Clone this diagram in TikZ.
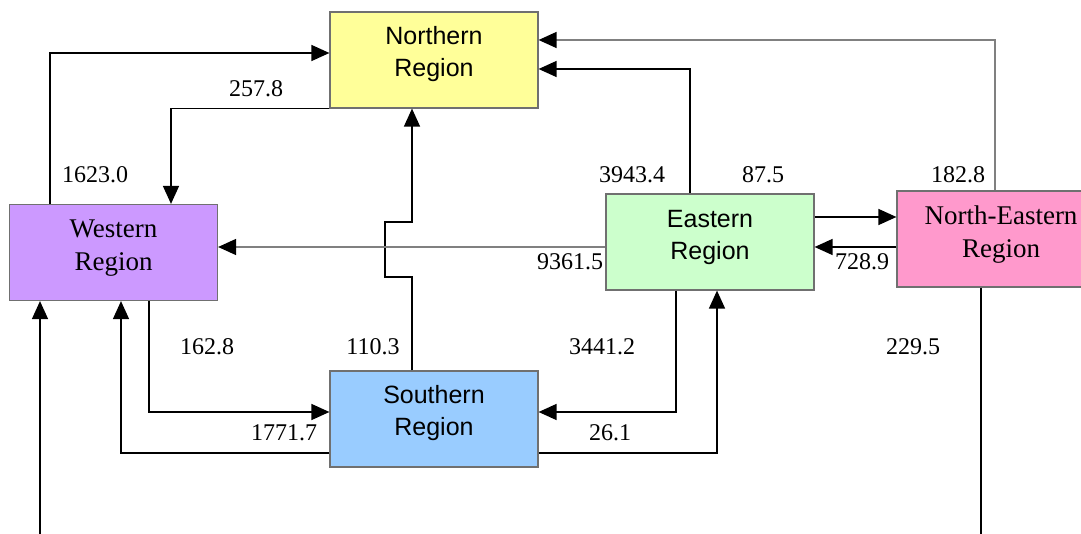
\documentclass[tikz,border=0pt]{standalone}
\usepackage{fontspec}
\setmainfont{Liberation Serif}
\newfontfamily\boxsans{Liberation Sans}
\usetikzlibrary{arrows.meta}
\definecolor{cnorth}{HTML}{FFFF99}
\definecolor{cwest}{HTML}{CC99FF}
\definecolor{ceast}{HTML}{CCFFCC}
\definecolor{cne}{HTML}{FF99CC}
\definecolor{csouth}{HTML}{99CCFF}
\definecolor{bordergray}{HTML}{707070}
\tikzset{
  region/.style={draw=bordergray, line width=1.2pt, minimum width=208pt, minimum height=96pt,
    inner sep=0pt},
  sanstext/.style={font=\boxsans\fontsize{25}{32}\selectfont, align=center, inner sep=0pt},
  seriftext/.style={font=\fontsize{27}{33}\selectfont, align=center, inner sep=0pt},
  flow/.style={line width=1.5pt, -{Triangle[length=18pt,width=16pt,color=black]}},
  plain/.style={line width=1.5pt},
  grayflow/.style={flow, draw=black!50},
  val/.style={font=\fontsize{24}{28}\selectfont, inner sep=0pt}
}
\begin{document}
\begin{tikzpicture}[x=1pt,y=-1pt]
\useasboundingbox (0,0) rectangle (1081,534);
\clip (0,0) rectangle (1081,534);
% regions
\node[region, fill=cnorth] (N) at (434,60) {};
\node[region, fill=cwest] (W) at (113.5,252.5) {};
\node[region, fill=ceast] (E) at (710,242) {};
\node[region, fill=cne] (NE) at (1001,239) {};
\node[region, fill=csouth] (S) at (434,419) {};
\node[sanstext] (Nt) at ([yshift=6pt]N.center) {Northern\\Region};
\node[seriftext] (Wt) at ([yshift=4pt]W.center) {Western\\Region};
\node[sanstext] (Et) at ([yshift=5pt]E.center) {Eastern\\Region};
\node[seriftext] (NEt) at ([yshift=4pt]NE.center) {North-Eastern\\Region};
\node[sanstext] (St) at ([yshift=6pt]S.center) {Southern\\Region};
% free ends
\coordinate (inW) at (40,534);
\coordinate (outNE) at (981,534);
% connectors
\draw[flow] (W.north -| 50,0) |- (N.west |- 0,53);
\draw[flow] (N.south west) -| (W.north -| 171,0);
\draw[flow] (S.north -| 412,0) -- (412,277) -- (385,277) -- (385,222) -- (412,222) -- (N.south -| 412,0);
\draw[grayflow] (E.west |- 0,247) -- (W.east |- 0,247);
\draw[flow] (E.north -| 690,0) |- (N.east |- 0,69);
\draw[grayflow] (NE.north -| 995,0) |- (N.east |- 0,40);
\draw[flow] (E.east |- 0,217) -- (NE.west |- 0,217);
\draw[flow] (NE.west |- 0,247) -- (E.east |- 0,247);
\draw[flow] (E.south -| 676,0) |- (S.east |- 0,412);
\draw[flow] (S.east |- 0,453) -| (E.south -| 717,0);
\draw[flow] (W.south -| 149,0) |- (S.west |- 0,412);
\draw[flow] (S.west |- 0,453) -| (W.south -| 121,0);
\draw[flow] (inW) -- (W.south -| inW);
\draw[plain] (NE.south -| outNE) -- (outNE);
% values
\node[val] (v1) at (95,175) {1623.0};
\node[val] (v2) at (256,89) {257.8};
\node[val] (v3) at (373,347) {110.3};
\node[val] (v4) at (570,262) {9361.5};
\node[val] (v5) at (632,175) {3943.4};
\node[val] (v6) at (763,175) {87.5};
\node[val] (v7) at (958,175) {182.8};
\node[val] (v8) at (862,262) {728.9};
\node[val] (v9) at (602,347) {3441.2};
\node[val] (v10) at (610,433) {26.1};
\node[val] (v11) at (207,347) {162.8};
\node[val] (v12) at (284,433) {1771.7};
\node[val] (v13) at (913,347) {229.5};
\end{tikzpicture}
\end{document}
